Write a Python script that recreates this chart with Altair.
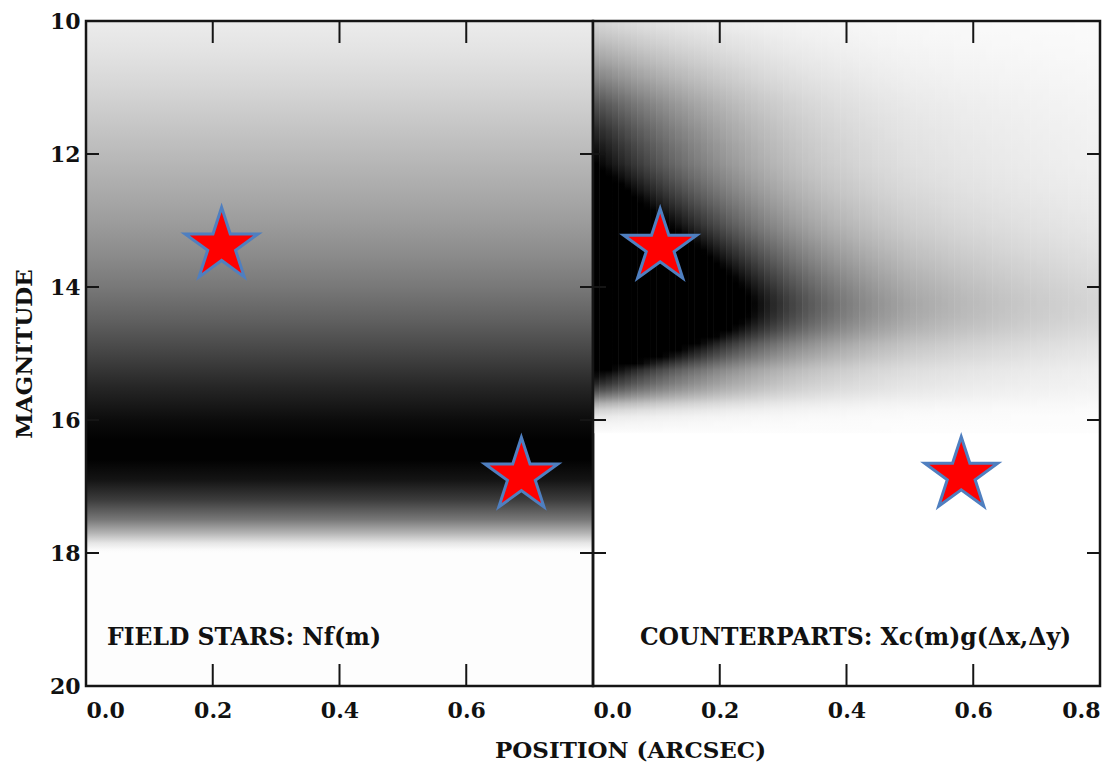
import math
import altair as alt
import pandas as pd

# ---------------- layout constants ----------------
W = 507   # width of each panel's plot area
H = 665   # height of plot area
FONT = "DejaVu Serif"

# ---------------- axes ----------------
MAG_DOMAIN = [10, 20]
X_DOMAIN = [0, 0.8]
y_label_values = [10, 12, 14, 16, 18, 20]
y_inner_ticks = [12, 14, 16, 18]
x_inner_ticks = [0.2, 0.4, 0.6]
left_x_labels = [0.0, 0.2, 0.4, 0.6]
right_x_labels = [0.0, 0.2, 0.4, 0.6, 0.8]

# ---------------- left panel: field stars Nf(m), gray level by magnitude ----------------
field_mag = [10.0, 10.5, 11.0, 11.5, 12.0, 12.5, 13.0, 13.5, 14.0, 14.5, 15.0, 15.5,
             16.0, 16.3, 16.6, 16.9, 17.2, 17.5, 17.7, 17.85, 17.95, 18.0, 20.0]
field_gray = [236, 226, 214, 200, 186, 172, 157, 140, 120, 96, 68, 38,
              12, 2, 2, 20, 60, 120, 180, 230, 250, 253, 253]

# ---------------- right panel: counterparts Xc(m) g(dx,dy) ----------------
# row centres (magnitude), 0.1 mag rows
cp_mag = [round(10.05 + 0.1 * i, 2) for i in range(62)]
# Xc(m): darkness at zero offset (values > 1 saturate to black)
cp_xc = [0.17, 0.20, 0.235, 0.27, 0.31, 0.35, 0.39, 0.44, 0.48, 0.53,
         0.58, 0.63, 0.68, 0.72, 0.76, 0.80, 0.84, 0.87, 0.91, 0.94,
         0.97, 1.00, 1.05, 1.10, 1.16, 1.22, 1.29, 1.36, 1.44, 1.52,
         1.60, 1.70, 1.81, 1.93, 2.05, 2.17, 2.30, 2.43, 2.56, 2.68,
         2.80, 2.90, 2.95, 2.93, 2.85, 2.70, 2.50, 2.24, 1.96, 1.74,
         1.54, 1.30, 1.08, 0.95, 0.84, 0.70, 0.52, 0.32, 0.17, 0.08,
         0.04, 0.015]
# column starts (arcsec), 0.01 wide columns
cp_x = [round(0.01 * i, 2) for i in range(80)]
# g(dx): relative profile with offset
cp_g = [1.000, 0.965, 0.930, 0.893, 0.857, 0.820, 0.786, 0.753, 0.720, 0.690,
        0.660, 0.632, 0.605, 0.579, 0.554, 0.530, 0.507, 0.485, 0.463, 0.441,
        0.420, 0.401, 0.383, 0.365, 0.348, 0.331, 0.315, 0.300, 0.286, 0.273,
        0.260, 0.248, 0.237, 0.227, 0.217, 0.208, 0.199, 0.191, 0.183, 0.176,
        0.169, 0.162, 0.156, 0.150, 0.144, 0.139, 0.134, 0.129, 0.124, 0.119,
        0.115, 0.112, 0.109, 0.106, 0.103, 0.100, 0.097, 0.094, 0.091, 0.089,
        0.087, 0.085, 0.082, 0.080, 0.078, 0.076, 0.074, 0.072, 0.070, 0.068,
        0.066, 0.065, 0.063, 0.062, 0.060, 0.059, 0.057, 0.056, 0.054, 0.053]

# ---------------- stars ----------------
left_star_x = [0.214, 0.687]
left_star_m = [13.38, 16.84]
right_star_x = [0.106, 0.581]
right_star_m = [13.40, 16.83]

# ---------------- annotations ----------------
left_label = "FIELD STARS: Nf(m)"
right_label = "COUNTERPARTS: Xc(m)g(\u0394x,\u0394y)"
label_x = [0.033, 0.074]
label_m = [19.28, 19.28]

# ---------------- helpers ----------------
def hexgray(v):
    v = max(0, min(255, int(round(v))))
    return "#{0:02x}{0:02x}{0:02x}".format(v)

def dark_to_gray(d):
    d = max(0.0, min(1.0, d))
    return 253 * (1.0 - d)

CP_TOP, CP_BOTTOM = 10.0, 16.2

xscale = alt.Scale(domain=X_DOMAIN, nice=False, zero=False)
yscale = alt.Scale(domain=MAG_DOMAIN, reverse=True, nice=False, zero=False)

left_x_axis = alt.Axis(values=left_x_labels, format=".1f", ticks=False, domain=False,
                       grid=False, labelPadding=14, labelFontSize=22,
                       title="POSITION (ARCSEC)", titleX=544, titleY=64,
                       titleAlign="center", titleBaseline="middle", titleFontSize=23)
right_x_axis = alt.Axis(values=right_x_labels, format=".1f", ticks=False, domain=False,
                        grid=False, labelPadding=14, labelFontSize=22, title=None)
left_y_axis = alt.Axis(values=y_label_values, format="d", ticks=False, domain=False,
                       grid=False, labelPadding=6, labelFontSize=22,
                       title="MAGNITUDE", titlePadding=13, titleFontSize=23)


def panel(xaxis, yaxis, bg_layers, star_x, star_m, lx, lm, ltxt):
    X = lambda f: alt.X(f, scale=xscale, axis=xaxis)
    Y = lambda f: alt.Y(f, scale=yscale, axis=yaxis)
    layers = []
    for bg_df, grad in bg_layers:
        layers.append(
            alt.Chart(bg_df).mark_rect(fill=grad, clip=True)
            .encode(x=X("x0:Q"), x2="x1:Q", y=Y("m0:Q"), y2="m1:Q")
        )
    star_df = pd.DataFrame({"x": star_x, "m": star_m})
    layers.append(
        alt.Chart(star_df).mark_point(
            shape=STAR, size=5900, filled=True, fill="#ff0000", stroke="#4f7fc0",
            strokeWidth=3, opacity=1, strokeJoin="miter"
        ).encode(x=X("x:Q"), y=Y("m:Q"))
    )
    txt_df = pd.DataFrame({"x": [lx], "m": [lm], "t": [ltxt]})
    layers.append(
        alt.Chart(txt_df).mark_text(
            align="left", baseline="middle", font=FONT, fontSize=23.5,
            fontWeight="bold", color="#111111"
        ).encode(x=X("x:Q"), y=Y("m:Q"), text="t:N")
    )
    ydf = pd.DataFrame({"m": y_inner_ticks})
    xdf = pd.DataFrame({"t": x_inner_ticks})
    sty = dict(color="#151515", strokeWidth=2)
    layers += [
        alt.Chart(ydf).mark_rule(**sty).encode(y=Y("m:Q"), x=alt.value(0), x2=alt.value(13)),
        alt.Chart(ydf).mark_rule(**sty).encode(y=Y("m:Q"), x=alt.value(W - 13), x2=alt.value(W)),
        alt.Chart(xdf).mark_rule(**sty).encode(x=X("t:Q"), y=alt.value(0), y2=alt.value(22)),
        alt.Chart(xdf).mark_rule(**sty).encode(x=X("t:Q"), y=alt.value(H - 22), y2=alt.value(H)),
    ]
    frame_df = pd.DataFrame({"a": [0]})
    layers.append(
        alt.Chart(frame_df).mark_rect(filled=False, stroke="#151515", strokeWidth=2.5).encode(
            x=alt.value(0), x2=alt.value(W), y=alt.value(0), y2=alt.value(H))
    )
    return alt.layer(*layers).properties(width=W, height=H)


# star symbol path (style)
pts = []
for k in range(10):
    ang = math.radians(-90 + 36 * k)
    r = 1.0 if k % 2 == 0 else 0.382
    pts.append(f"{r * math.cos(ang):.3f},{r * math.sin(ang):.3f}")
STAR = "M" + " L".join(pts) + " Z"

# left background: one rect with a vertical gradient from the field profile
field_df = pd.DataFrame({"x0": [0.0], "x1": [0.8], "m0": [10.0], "m1": [20.0]})
field_gradient = alt.LinearGradient(
    gradient="linear",
    stops=[alt.GradientStop(offset=(m - 10.0) / 10.0, color=hexgray(v))
           for m, v in zip(field_mag, field_gray)],
    x1=0, x2=0, y1=0, y2=1,
)

# right background: one column per offset bin, vertical gradient of Xc(m) * g(dx)
cp_layers = []
span = CP_BOTTOM - CP_TOP
for x, g in zip(cp_x, cp_g):
    stops = [alt.GradientStop(offset=0.0, color=hexgray(dark_to_gray(cp_xc[0] * g)))]
    for m, a in zip(cp_mag, cp_xc):
        stops.append(alt.GradientStop(offset=(m - CP_TOP) / span,
                                      color=hexgray(dark_to_gray(a * g))))
    stops.append(alt.GradientStop(offset=1.0, color=hexgray(dark_to_gray(0.0))))
    grad = alt.LinearGradient(gradient="linear", stops=stops, x1=0, x2=0, y1=0, y2=1)
    # columns overlap their neighbour very slightly so no seams show
    df = pd.DataFrame({"x0": [x], "x1": [min(0.8, round(x + 0.0108, 4))],
                       "m0": [CP_TOP], "m1": [CP_BOTTOM]})
    cp_layers.append((df, grad))

left = panel(left_x_axis, left_y_axis, [(field_df, field_gradient)],
             left_star_x, left_star_m, label_x[0], label_m[0], left_label)
right = panel(right_x_axis, None, cp_layers,
              right_star_x, right_star_m, label_x[1], label_m[1], right_label)

chart = alt.hconcat(left, right, spacing=0, bounds="flush").properties(
    padding={"left": 5, "top": 2, "right": 5, "bottom": 5},
    background="white",
).configure_view(
    strokeWidth=0
).configure_axis(
    labelFont=FONT, titleFont=FONT, labelColor="#111111", titleColor="#111111",
    labelFontWeight="bold", titleFontWeight="bold"
)

chart.save("out.html", embed_options={"renderer": "svg", "actions": False})
